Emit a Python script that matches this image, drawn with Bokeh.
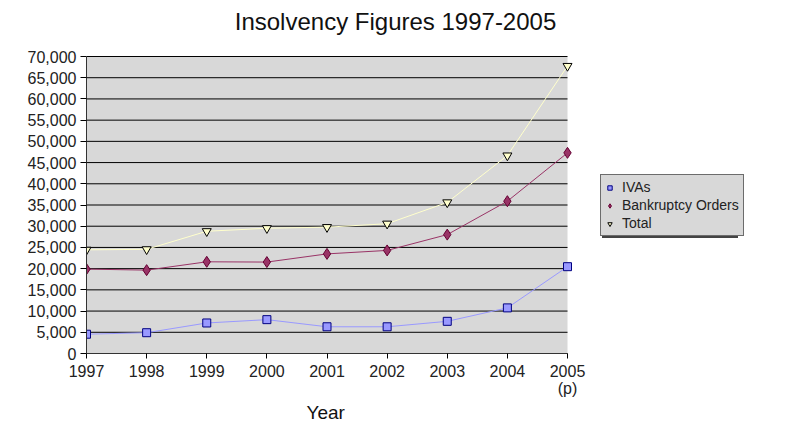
from bokeh.plotting import figure
from bokeh.models import (Range1d, FixedTicker, NumeralTickFormatter, Legend, LegendItem, Label, Title)
from bokeh.embed import file_html
from bokeh.resources import INLINE

years = [1997, 1998, 1999, 2000, 2001, 2002, 2003, 2004, 2005]
ivas = [4545, 4901, 7195, 7978, 6298, 6295, 7583, 10752, 20461]
bankruptcy = [19892, 19647, 21611, 21550, 23477, 24292, 28021, 35898, 47291]
total = [24437, 24548, 28806, 29528, 29775, 30587, 35604, 46650, 67752]
y_ticks = [0, 5000, 10000, 15000, 20000, 25000, 30000, 35000, 40000,
           45000, 50000, 55000, 60000, 65000, 70000]
x_tick_labels = {2005: "2005\n(p)"}
series_names = ["IVAs", "Bankruptcy Orders", "Total"]

FONT = "Liberation Sans"

# layout (pixels): plot area 481 x 297, left edge at 86, bottom at 353
W, H = 800, 426
LEFT, BOTTOM_PX = 86, 353
PLOT_W, PLOT_H = 481, 297
frame_w = W - LEFT
frame_h = BOTTOM_PX
x0, x1 = years[0], years[-1]
ymax = y_ticks[-1]
x_end = x0 + (x1 - x0) * frame_w / PLOT_W
y_end = ymax * frame_h / PLOT_H

p = figure(frame_width=frame_w, frame_height=frame_h,
           x_range=Range1d(x0, x_end), y_range=Range1d(0, y_end),
           output_backend="svg", toolbar_location=None,
           min_border_left=LEFT, min_border_top=0, min_border_right=0,
           min_border_bottom=H - BOTTOM_PX,
           background_fill_color="white", border_fill_color="white")
p.outline_line_color = None
p.xgrid.grid_line_color = None
p.ygrid.grid_line_color = None

# plot area background and gridlines
p.quad(left=[x0], right=[x1], bottom=[0], top=[ymax], fill_color="#d8d8d8", line_color=None)
p.segment(x0=[x0] * len(y_ticks), x1=[x1] * len(y_ticks), y0=y_ticks, y1=y_ticks,
          line_color="black", line_width=1)

# axes
xa = p.xaxis[0]
xa.bounds = (x0, x1)
xa.ticker = FixedTicker(ticks=years)
xa.major_label_overrides = x_tick_labels
xa.minor_tick_line_color = None
xa.major_tick_in = 0
xa.major_tick_out = 5
xa.major_label_standoff = 4
xa.major_label_text_font = FONT
xa.major_label_text_font_size = "16px"
xa.major_label_text_line_height = 1.0
xa.major_label_text_color = "#222222"
xa.axis_line_color = "#333333"

ya = p.yaxis[0]
ya.bounds = (0, ymax)
ya.ticker = FixedTicker(ticks=y_ticks)
ya.formatter = NumeralTickFormatter(format="0,0")
ya.minor_tick_line_color = None
ya.major_tick_in = 0
ya.major_tick_out = 6
ya.major_label_standoff = 4
ya.major_label_text_font = FONT
ya.major_label_text_font_size = "16px"
ya.major_label_text_color = "#222222"
ya.axis_line_color = "#333333"

# x-axis title, centred under the plot area
p.add_layout(Title(text="Year", align="left", offset=220, standoff=0,
                   text_font=FONT, text_font_size="19px", text_font_style="normal",
                   text_color="#111111"), "below")

# series
p.line(years, ivas, line_color="#9999ff", line_width=1)
s1 = p.scatter(years, ivas, marker="square", size=8, fill_color="#9999ff", line_color="#000080")
p.line(years, bankruptcy, line_color="#993366", line_width=1)
s2 = p.scatter(years, bankruptcy, marker="diamond", size=11, fill_color="#993366", line_color="#660033")
p.line(years, total, line_color="#ffffcc", line_width=1)
s3 = p.scatter(years, total, marker="inverted_triangle", size=9, fill_color="#ffffcc", line_color="black")

# chart title
p.add_layout(Label(x=395 - LEFT, y=frame_h - 21, x_units="screen", y_units="screen",
                   text="Insolvency Figures 1997-2005", text_font=FONT,
                   text_font_size="24px", text_align="center", text_baseline="middle",
                   text_color="#111111"))


def style_legend(lg):
    lg.label_text_font = FONT
    lg.label_text_font_size = "14px"
    lg.padding = 3
    lg.spacing = 0
    lg.label_height = 18
    lg.label_width = 118
    lg.glyph_height = 11
    lg.glyph_width = 11
    lg.label_standoff = 7
    lg.margin = 0


LEG_X, LEG_Y = 600 - LEFT, BOTTOM_PX - 236

# legend shadow (blank box of the same size, offset down-right)
dummy = p.scatter(x=[], y=[], fill_alpha=0, line_alpha=0)
shadow = Legend(items=[LegendItem(label=" ", renderers=[dummy]) for _ in series_names],
                location=(LEG_X + 2, LEG_Y - 2))
style_legend(shadow)
shadow.background_fill_color = "#444444"
shadow.background_fill_alpha = 1
shadow.border_line_color = None
p.add_layout(shadow, "center")

legend = Legend(items=[LegendItem(label=n, renderers=[r]) for n, r in zip(series_names, [s1, s2, s3])],
                location=(LEG_X, LEG_Y))
style_legend(legend)
legend.label_text_color = "#222222"
legend.background_fill_color = "#d8d8d8"
legend.background_fill_alpha = 1
legend.border_line_color = "black"
legend.border_line_width = 1
p.add_layout(legend, "center")

open("out.html", "w").write(file_html(p, INLINE))
